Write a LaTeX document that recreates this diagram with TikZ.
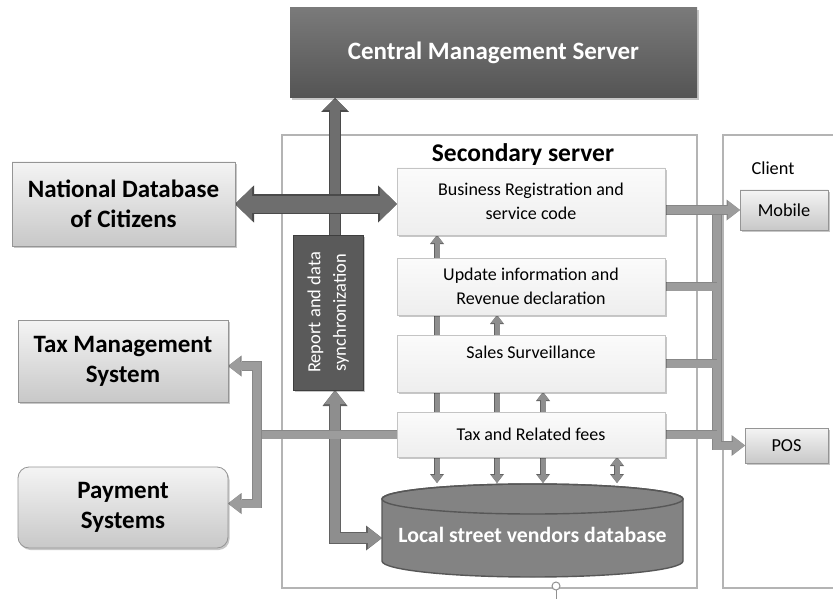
\documentclass[tikz,border=0pt]{standalone}
\usepackage{fontspec}
\setmainfont{Carlito}
\usetikzlibrary{arrows.meta,shadows,calc}
\pgfdeclarelayer{frames}
\pgfdeclarelayer{links}
\pgfsetlayers{frames,links,main}

\definecolor{frameline}{HTML}{B4B4B4}
\definecolor{cmstop}{HTML}{7A7A7A}
\definecolor{cmsbot}{HTML}{545454}
\definecolor{exttop}{HTML}{F4F4F4}
\definecolor{extbot}{HTML}{C8C8C8}
\definecolor{extline}{HTML}{959595}
\definecolor{paneltop}{HTML}{FBFBFB}
\definecolor{panelbot}{HTML}{EEEEEE}
\definecolor{panelline}{HTML}{C4C4C4}
\definecolor{repfill}{HTML}{5A5A5A}
\definecolor{repline}{HTML}{3E3E3E}
\definecolor{dbfill}{HTML}{838383}
\definecolor{dbline}{HTML}{575757}
\definecolor{dkfill}{HTML}{6E6E6E}
\definecolor{dkline}{HTML}{4A4A4A}
\definecolor{mdfill}{HTML}{8E8E8E}
\definecolor{mdline}{HTML}{626262}
\definecolor{ltfill}{HTML}{9C9C9C}
\definecolor{ltline}{HTML}{878787}

\tikzset{
  softshadow/.style={drop shadow={shadow xshift=1.5pt, shadow yshift=-2pt, opacity=0.22, fill=black}},
  frame/.style={draw=frameline, line width=2.5pt, rectangle},
  cmsbox/.style={rectangle, top color=cmstop, bottom color=cmsbot, text=white,
    font=\bfseries\fontsize{25}{30}\selectfont, softshadow},
  extbox/.style={rectangle, draw=extline, line width=0.8pt, top color=exttop, bottom color=extbot,
    font=\bfseries\fontsize{25}{30}\selectfont, softshadow},
  panel/.style={rectangle, draw=panelline, line width=0.8pt, top color=paneltop, bottom color=panelbot,
    minimum width=268pt, font=\fontsize{18}{24}\selectfont, softshadow},
  client/.style={rectangle, draw=extline, line width=0.8pt, top color=exttop, bottom color=extbot,
    font=\fontsize{18.3}{22}\selectfont, softshadow},
  repbox/.style={rectangle, draw=repline, line width=0.8pt, fill=repfill, text=white,
    font=\fontsize{18.5}{25.5}\selectfont, softshadow},
  % block connectors: a darker outline pass under a lighter fill pass
  upblk/.style={draw=dkfill, line width=10pt, -{Triangle[width=24pt,length=12pt,line width=0pt]},
    preaction={draw=dkline, line width=12.4pt, -{Triangle[width=28pt,length=14pt,line width=0pt]}}},
  natblk/.style={draw=dkfill, line width=17pt,
    {Triangle[width=33pt,length=17pt,line width=0pt]}-{Triangle[width=33pt,length=17pt,line width=0pt]},
    preaction={draw=dkline, line width=19.4pt,
      {Triangle[width=37pt,length=19pt,line width=0pt]}-{Triangle[width=37pt,length=19pt,line width=0pt]}}},
  elbow/.style={draw=mdfill, line width=10pt,
    {Triangle[width=21pt,length=14pt,line width=0pt]}-{Triangle[width=21pt,length=14pt,line width=0pt]},
    preaction={draw=mdline, line width=12.2pt,
      {Triangle[width=25pt,length=16pt,line width=0pt]}-{Triangle[width=25pt,length=16pt,line width=0pt]}}},
  ltbar/.style={draw=ltfill, line width=8pt,
    preaction={draw=ltline, line width=9.6pt}},
  ltboth/.style={draw=ltfill, line width=8pt,
    {Triangle[width=18pt,length=12pt,line width=0pt]}-{Triangle[width=18pt,length=12pt,line width=0pt]},
    preaction={draw=ltline, line width=9.6pt,
      {Triangle[width=21pt,length=13.5pt,line width=0pt]}-{Triangle[width=21pt,length=13.5pt,line width=0pt]}}},
  ltend/.style={draw=ltfill, line width=8pt, -{Triangle[width=18pt,length=12pt,line width=0pt]},
    preaction={draw=ltline, line width=9.6pt, -{Triangle[width=21pt,length=13.5pt,line width=0pt]}}},
  smv/.style={draw=mdfill, line width=5pt,
    {Triangle[width=12pt,length=8pt,line width=0pt]}-{Triangle[width=12pt,length=8pt,line width=0pt]},
    preaction={draw=mdline, line width=6pt,
      {Triangle[width=14pt,length=9pt,line width=0pt]}-{Triangle[width=14pt,length=9pt,line width=0pt]}}},
}

\begin{document}
\begin{tikzpicture}[x=1pt, y=-1pt, every node/.style={inner sep=0pt, outer sep=0pt, align=center}]
\useasboundingbox (0,0) rectangle (833,599);

% ---- page and containers ----
\begin{pgfonlayer}{frames}
\fill[white] (0,0) rectangle (833,599);
\node[frame, minimum width=415pt, minimum height=453pt] (sec) at (489.5,361.5) {};
\node[frame, minimum width=122pt, minimum height=453pt] (cli) at (784,361.5) {};
\draw[draw=frameline!80!black, line width=1pt, fill=white] (556,586) circle (4);
\draw[draw=frameline!80!black, line width=1pt] (556,590) -- (556,599);
\end{pgfonlayer}

\node[font=\bfseries\fontsize{25.5}{30}\selectfont] (sectitle) at (523,155) {Secondary server};
\node[font=\fontsize{18.3}{22}\selectfont] (clititle) at (773,168) {Client};

% ---- servers and external systems ----
\node[cmsbox, minimum width=407pt, minimum height=90pt] (cms) at (493.5,53) {Central Management Server};

\node[extbox, minimum width=223pt, minimum height=84pt] (nat) at (123.5,204) {National Database\\of Citizens};
\node[extbox, minimum width=210pt, minimum height=82pt] (tm) at (123,361) {Tax Management\\System};
\node[extbox, rounded corners=11pt, minimum width=210pt, minimum height=81pt] (pay) at (123,507.5) {Payment\\Systems};

% ---- secondary server modules ----
\node[panel, minimum height=67pt] (bus) at (531,201.5) {Business Registration and\\service code};
\node[panel, minimum height=57pt] (upd) at (531,286.5) {Update information and\\Revenue declaration};
\node[panel, minimum height=57pt] (sal) at (531,363.5) {Sales Surveillance\\[-9pt]\strut};
\node[panel, minimum height=45pt] (tax) at (531,434.5) {Tax and Related fees};

\node[repbox, minimum width=70pt, minimum height=155pt] (rep) at (328,312.5)
  {\rotatebox{90}{\begin{tabular}{@{}c@{}}Report and data\\synchronization\end{tabular}}};

% ---- database cylinder ----
\filldraw[fill=dbfill, draw=dbline, line width=1.4pt]
  (382,499) -- (382,561) arc[start angle=180, end angle=0, x radius=150.5, y radius=16]
  -- (683,499) arc[start angle=0, end angle=-180, x radius=150.5, y radius=15] -- cycle;
\draw[draw=dbline, line width=1.4pt] (532.5,499) ellipse [x radius=150.5, y radius=15];
\node[text=white, font=\bfseries\fontsize{21.8}{26}\selectfont, minimum width=301pt, minimum height=94pt]
  (db) at (532.5,530) {\raisebox{-12pt}[0pt][0pt]{Local street vendors database}};

% ---- client devices ----
\node[client, minimum width=88pt, minimum height=40pt] (mob) at (784,210) {Mobile};
\node[client, minimum width=83pt, minimum height=35pt] (pos) at (786.5,445.5) {POS};

% ---- connector columns ----
\coordinate (cx) at (335,0);
\coordinate (lx) at (257,0);
\coordinate (bx) at (717,0);
\coordinate (v1) at (437,0);
\coordinate (v2) at (497,0);
\coordinate (v3) at (543,0);
\coordinate (v4) at (617,0);
\coordinate (dbin) at ($(db.west)+(0,8)$);
\coordinate (tmin) at ($(tm.east)+(0,5)$);
\coordinate (payin) at ($(pay.east)+(0,-4)$);

\begin{pgfonlayer}{links}
% synchronisation with the central server
\draw[upblk] (cx |- rep.north) -- (cx |- cms.south);
% module links into the database
\draw[smv] (v1 |- bus.south) -- (v1 |- db.north);
\draw[smv] (v2 |- upd.south) -- (v2 |- db.north);
\draw[smv] (v3 |- sal.south) -- (v3 |- db.north);
\draw[smv] (v4 |- tax.south) -- (v4 |- db.north);
% report box <-> local database
\draw[elbow] (cx |- rep.south) -- (cx |- dbin) -- (dbin);
% tax module to tax management and payment systems
\draw[ltbar] (tax.west) -- (lx |- tax.west);
\draw[ltboth] (tmin) -- (lx |- tmin) -- (lx |- payin) -- (payin);
% modules to client devices
\draw[ltend] (bx |- mob.west) -- (bx |- pos.west) -- (pos.west);
\draw[ltbar] (upd.east) -- (bx |- upd.east);
\draw[ltbar] (sal.east) -- (bx |- sal.east);
\draw[ltbar] (tax.east) -- (bx |- tax.east);
\draw[ltend] (bus.east |- mob.west) -- (mob.west);
% citizens database <-> business registration
\draw[natblk] (nat.east) -- (nat.east -| bus.west);
\end{pgfonlayer}
\end{tikzpicture}
\end{document}
